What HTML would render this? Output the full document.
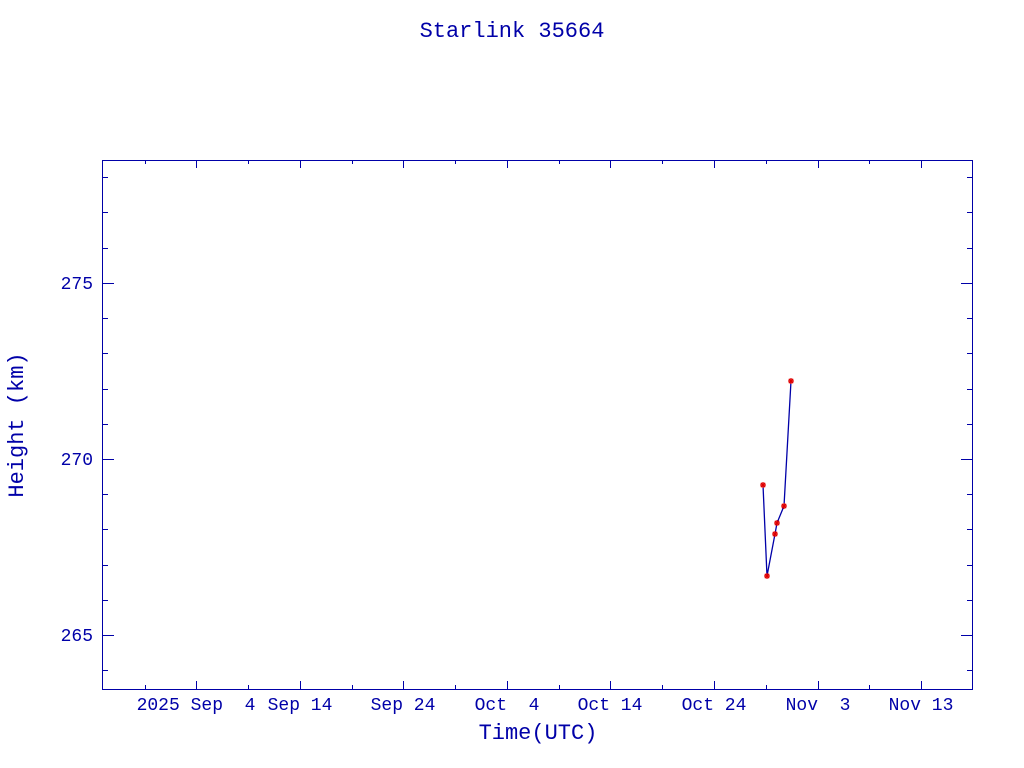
<!DOCTYPE html>
<html><head><style>body{margin:0;background:#fff}svg{display:block}.p{white-space:pre}</style></head>
<body>
<svg width="1024" height="768" xmlns="http://www.w3.org/2000/svg" font-family="Liberation Mono, monospace" fill="#0000a8">
<rect width="1024" height="768" fill="#fff"/>
<text x="512" y="37" font-size="22" text-anchor="middle">Starlink 35664</text>
<rect x="102.5" y="160.5" width="870" height="529" fill="none" stroke="#0000a8" stroke-width="1"/>
<g stroke="#0000a8" stroke-width="1">
<path d="M196.5 689v-8M196.5 160v8M300.5 689v-8M300.5 160v8M403.5 689v-8M403.5 160v8M507.5 689v-8M507.5 160v8M610.5 689v-8M610.5 160v8M714.5 689v-8M714.5 160v8M818.5 689v-8M818.5 160v8M921.5 689v-8M921.5 160v8"/>
<path d="M145.5 689v-4M145.5 160v4M248.5 689v-4M248.5 160v4M352.5 689v-4M352.5 160v4M455.5 689v-4M455.5 160v4M559.5 689v-4M559.5 160v4M662.5 689v-4M662.5 160v4M766.5 689v-4M766.5 160v4M869.5 689v-4M869.5 160v4"/>
<path d="M102 283.5h12M973 283.5h-12M102 459.5h12M973 459.5h-12M102 635.5h12M973 635.5h-12"/>
<path d="M102 177.5h6M973 177.5h-6M102 212.5h6M973 212.5h-6M102 248.5h6M973 248.5h-6M102 318.5h6M973 318.5h-6M102 353.5h6M973 353.5h-6M102 389.5h6M973 389.5h-6M102 424.5h6M973 424.5h-6M102 494.5h6M973 494.5h-6M102 529.5h6M973 529.5h-6M102 565.5h6M973 565.5h-6M102 600.5h6M973 600.5h-6M102 670.5h6M973 670.5h-6"/>
</g>
<g font-size="18" text-anchor="end">
<text x="93" y="289">275</text>
<text x="93" y="465">270</text>
<text x="93" y="641">265</text>
</g>
<g font-size="18" text-anchor="middle" class="p">
<text class="p" x="196" y="710">2025 Sep  4</text>
<text x="300" y="710">Sep 14</text>
<text x="403" y="710">Sep 24</text>
<text class="p" x="507" y="710">Oct  4</text>
<text x="610" y="710">Oct 14</text>
<text x="714" y="710">Oct 24</text>
<text class="p" x="818" y="710">Nov  3</text>
<text x="921" y="710">Nov 13</text>
</g>
<text x="538" y="739" font-size="22" text-anchor="middle">Time(UTC)</text>
<text transform="translate(23,425) rotate(-90)" font-size="22" text-anchor="middle">Height (km)</text>
<polyline points="763,485 767,576 775,534 777,523 784,506 791,381" fill="none" stroke="#0000a8" stroke-width="1.3"/>
<g stroke="#e00000" stroke-width="1.3">
<path d="M-3 0h6M0 -3v6M-2.2 -2.2l4.4 4.4M-2.2 2.2l4.4 -4.4" transform="translate(763,485)"/>
<path d="M-3 0h6M0 -3v6M-2.2 -2.2l4.4 4.4M-2.2 2.2l4.4 -4.4" transform="translate(767,576)"/>
<path d="M-3 0h6M0 -3v6M-2.2 -2.2l4.4 4.4M-2.2 2.2l4.4 -4.4" transform="translate(775,534)"/>
<path d="M-3 0h6M0 -3v6M-2.2 -2.2l4.4 4.4M-2.2 2.2l4.4 -4.4" transform="translate(777,523)"/>
<path d="M-3 0h6M0 -3v6M-2.2 -2.2l4.4 4.4M-2.2 2.2l4.4 -4.4" transform="translate(784,506)"/>
<path d="M-3 0h6M0 -3v6M-2.2 -2.2l4.4 4.4M-2.2 2.2l4.4 -4.4" transform="translate(791,381)"/>
</g>
</svg>
</body></html>
